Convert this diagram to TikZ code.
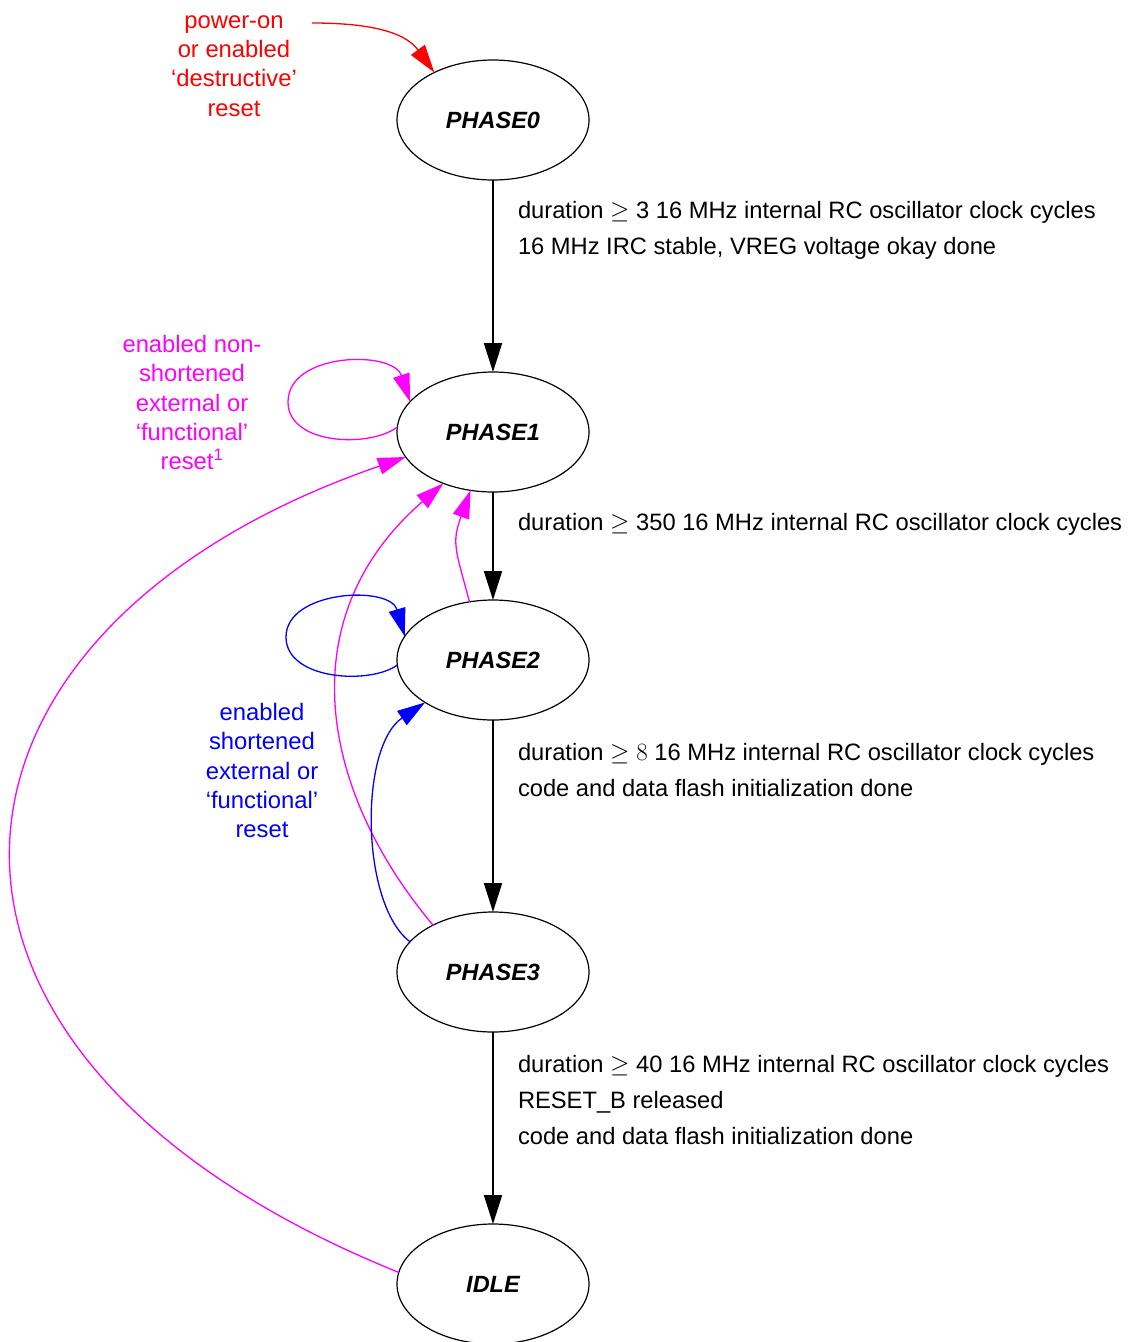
\documentclass[tikz,border=0pt]{standalone}
\usepackage{amsmath, amssymb}
\usepackage{xcolor}
\usepackage{fontspec}
\setmainfont{Liberation Sans}
\usepackage{tikz}
\usetikzlibrary{arrows.meta, positioning, shapes.geometric}

\definecolor{resetred}{RGB}{255,0,0}
\definecolor{resetmag}{RGB}{255,0,255}
\definecolor{resetblue}{RGB}{0,0,255}

\begin{document}
\begin{tikzpicture}[
            x=1pt, y=1pt,                      % una unidad = un pixel de la referencia
            node distance=192pt,
            state/.style={
                ellipse,
                draw=black,
                line width=1.2pt,
                minimum width=192pt,
                minimum height=120pt,
                inner sep=0pt,
                outer sep=0pt,
                font=\fontsize{23.5}{28}\selectfont\bfseries\itshape
            },
            line/.style={
                draw,
                line width=2pt,
                -{Triangle[length=29pt, width=18pt]}
            },
            note/.style={
                anchor=west,
                xshift=24pt,
                inner sep=0pt,
                align=left,
                font=\fontsize{23.7}{36}\selectfont
            },
            resetline/.style={
                draw=#1,
                line width=1.3pt,
                -{Triangle[length=28pt, width=17pt]}
            },
            cause/.style={
                text=#1,
                inner sep=0pt,
                align=center,
                font=\fontsize{23.8}{29.3}\selectfont
            }
        ]
            \useasboundingbox (0,0) rectangle (1128,-1342);

            % --- ESTADOS ---
            \node [state] (p0) at (493,-120) {PHASE0};
            \node [state, below=of p0] (p1) {PHASE1};
            \node [state, below=108pt of p1] (p2) {PHASE2};
            \node [state, below=of p2] (p3) {PHASE3};
            \node [state, below=of p3] (idle) {IDLE};

            % --- TRANSICIONES NORMALES ---
            \path [line] (p0) -- node[note, pos=0.26] {duration $\geq$ 3 16 MHz internal RC oscillator clock cycles\\ 16 MHz IRC stable, VREG voltage okay done} (p1);
            \path [line] (p1) -- node[note, pos=0.30] {duration $\geq$ 350 16 MHz internal RC oscillator clock cycles} (p2);
            \path [line] (p2) -- node[note, pos=0.26] {duration $\geq 8$ 16 MHz internal RC oscillator clock cycles\\ code and data flash initialization done} (p3);
            \path [line] (p3) -- node[note, pos=0.354] {duration $\geq$ 40 16 MHz internal RC oscillator clock cycles\\ RESET\_B released\\ code and data flash initialization done} (idle);

            % --- RESET DESTRUCTIVO ---
            \node [cause=resetred] (destr) at (234,-66) {power-on\\ or enabled\\ ‘destructive’\\ reset};
            \coordinate (pwr) at (312,-23);
            \path [resetline=resetred] (pwr) .. controls +(0:70) and +(126:45) .. (p0.141);

            % --- RESET NO ACORTADO ---
            \node [cause=resetmag] (nonshort) at (192,-402.5) {enabled non-\\ shortened\\ external or\\ ‘functional’\\ reset\textsuperscript{1}};
            \path [resetline=resetmag] (p1.177) .. controls (370,-448) and (288,-445) .. (288,-402)
                .. controls (288,-352) and (393,-350) .. (p1.160);
            \path [resetline=resetmag] (p2.112) .. controls +(105:55) and +(250:56) .. (p1.249);
            \path [resetline=resetmag] (p3.142) .. controls +(130:176) and +(221:205) .. (p1.226);
            \path [resetline=resetmag] (idle.173) .. controls +(158:580) and +(199:530) .. (p1.196);

            % --- RESET ACORTADO ---
            \node [cause=resetblue] (short) at (262,-770.5) {enabled\\ shortened\\ external or\\ ‘functional’\\ reset};
            \path [resetline=resetblue] (p2.183) .. controls (370,-685) and (286,-680) .. (286,-637)
                .. controls (286,-590) and (390,-585) .. (p2.165);
            \path [resetline=resetblue] (p3.160) .. controls +(143:62) and +(214:80) .. (p2.212);
        \end{tikzpicture}
\end{document}
